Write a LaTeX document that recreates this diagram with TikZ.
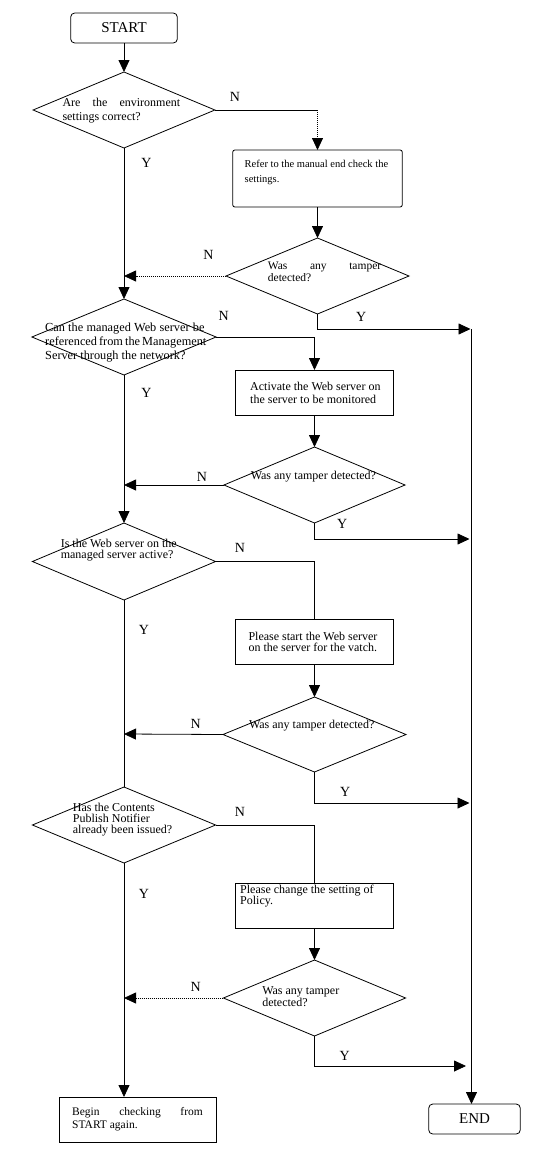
\documentclass[tikz,border=0pt]{standalone}
\usepackage{fontspec}
\setmainfont{Liberation Serif}
\usetikzlibrary{shapes.geometric, arrows.meta}
\newcommand\myfs[2]{\fontsize{#1}{#2}\selectfont}
\tikzset{
  ln/.style={line width=0.8pt},
  arr/.style={ln, -{Triangle[length=12pt,width=11pt]}},
  fdot/.style={dash pattern=on 1pt off 1pt},
  dia/.style={draw, ln, diamond, inner sep=0pt, outer sep=0pt},
  proc/.style={draw, ln, rectangle, inner sep=0pt, outer sep=0pt},
  pbox/.style={proc, minimum width=157.9pt, minimum height=45pt},
  term/.style={draw, ln, rectangle, rounded corners=4pt, inner sep=0pt, outer sep=0pt, font=\myfs{15}{15}},
  txt/.style={inner sep=0pt, align=left},
  lab/.style={inner sep=0pt, font=\myfs{14}{14}},
}
\begin{document}
\begin{tikzpicture}[x=1pt,y=-1pt]
\useasboundingbox (0,0) rectangle (543,1154);
% shapes
\node[term, minimum width=106.6pt, minimum height=30pt] (start) at (124,28) {START};
\node[dia, minimum width=181.8pt, minimum height=76pt] (d1) at (124,110) {};
\node[proc, rounded corners=2pt, minimum width=169.4pt, minimum height=57pt] (b1) at (317.5,178.5) {};
\node[dia, minimum width=183pt, minimum height=76pt] (d2) at (317.5,276) {};
\node[dia, minimum width=184.2pt, minimum height=76pt] (d3) at (124,337) {};
\node[pbox] (b2) at (314.5,392.5) {};
\node[dia, minimum width=181.1pt, minimum height=76pt] (d4) at (314.5,485) {};
\node[dia, minimum width=183.2pt, minimum height=77pt] (d5) at (124,561.5) {};
\node[pbox] (b3) at (314.5,641.5) {};
\node[dia, minimum width=183pt, minimum height=75pt] (d6) at (314.5,734.5) {};
\node[dia, minimum width=183.2pt, minimum height=76pt] (d7) at (124,825) {};
\node[pbox] (b4) at (314.5,905.5) {};
\node[dia, minimum width=182.2pt, minimum height=76pt] (d8) at (314.5,998) {};
\node[proc, minimum width=157.2pt, minimum height=45pt] (b5) at (137.8,1119.5) {};
\node[term, minimum width=91.5pt, minimum height=30pt] (end) at (474.5,1119) {END};
% texts
\node[txt, anchor=west, font=\myfs{12}{14}] (t1) at (62.3,111) {\makebox[117.7pt][s]{Are the environment}\\settings correct?};
\node[txt, anchor=west, font=\myfs{10.5}{15}] (t2) at (244.5,172.5) {Refer to the manual end check the\\settings.};
\node[txt, anchor=west, font=\myfs{11.5}{12}] (t3) at (267.7,272) {\makebox[113.3pt][s]{Was any tamper}\\detected?};
\node[txt, anchor=west, font=\myfs{12.3}{14}] (t4) at (45,343) {\makebox[159.3pt][s]{Can the managed Web server be}\\\makebox[159.3pt][s]{referenced from the Management}\\Server through the network?};
\node[txt, anchor=west, font=\myfs{12}{13}] (t5) at (250,392.5) {Activate the Web server on\\the server to be monitored};
\node[txt, font=\myfs{12}{12}] (t6) at (313.4,477) {Was any tamper detected?};
\node[txt, anchor=west, font=\myfs{12}{11}] (t7) at (60.6,550.5) {Is the Web server on the\\managed server active?};
\node[txt, anchor=west, font=\myfs{12}{11}] (t8) at (248.3,642.2) {Please start the Web server\\on the server for the vatch.};
\node[txt, font=\myfs{12}{12}] (t9) at (311.7,726) {Was any tamper detected?};
\node[txt, anchor=west, font=\myfs{12}{11}] (t10) at (72.7,819.3) {Has the Contents\\Publish Notifier\\already been issued?};
\node[txt, anchor=west, font=\myfs{12}{11}] (t11) at (240,896.4) {Please change the setting of\\Policy.};
\node[txt, anchor=west, font=\myfs{12}{10.5}] (t12) at (262.1,997) {Was any tamper\\detected?};
\node[txt, anchor=west, font=\myfs{11.5}{13}] (t13) at (72,1118.7) {\makebox[130.6pt][s]{Begin checking from}\\START again.};
% labels
\node[lab] (n1) at (235,97) {N};
\node[lab] (y1) at (146.5,163) {Y};
\node[lab] (n2) at (208.5,255) {N};
\node[lab] (y2) at (361.2,317) {Y};
\node[lab] (n3) at (223.7,316) {N};
\node[lab] (y3) at (146.5,393) {Y};
\node[lab] (n4) at (201.9,477) {N};
\node[lab] (y4) at (342.1,524) {Y};
\node[lab] (n5) at (240,548) {N};
\node[lab] (y5) at (144,630) {Y};
\node[lab] (n6) at (195.7,724) {N};
\node[lab] (y6) at (345.3,792) {Y};
\node[lab] (n7) at (240,812) {N};
\node[lab] (y7) at (144,894) {Y};
\node[lab] (n8) at (195.7,987) {N};
\node[lab] (y8) at (344.6,1056) {Y};
% free ends
\coordinate (m2) at (124,276);
\coordinate (m4) at (124,485);
\coordinate (m6) at (124,734);
\coordinate (m8) at (124,998);
\coordinate (r2) at (470.5,329);
\coordinate (r4) at (469.5,539);
\coordinate (r6) at (469.5,803);
\coordinate (r8) at (466,1066);
\coordinate (rt) at (471.5,329);
\coordinate (c1) at (d1.east -| b1.north);
% connectors
\draw[arr] (start.south) -- (d1.north);
\draw[arr] (d1.south) -- (d3.north);
\draw[arr] (d3.south) -- (d5.north);
\draw[ln] (d5.south) -- (d7.north);
\draw[arr] (d7.south) -- (d7.south |- b5.north);
\draw[ln] (d1.east) -- (c1);
\draw[arr, fdot] (c1) -- (b1.north);
\draw[arr] (b1.south) -- (d2.north);
\draw[arr, fdot] (d2.west) -- (m2);
\draw[arr] (d2.south) |- (r2);
\draw[arr] (d3.east) -| (b2.north);
\draw[arr] (b2.south) -- (d4.north);
\draw[arr] (d4.west) -- (m4);
\draw[arr] (d4.south) |- (r4);
\draw[ln] (d5.east) -| (b3.north);
\draw[arr] (b3.south) -- (d6.north);
\draw[arr] (d6.west) -- (m6);
\draw[arr] (d6.south) |- (r6);
\draw[ln] (d7.east) -| (b4.north);
\draw[arr] (b4.south) -- (d8.north);
\draw[arr, fdot] (d8.west) -- (m8);
\draw[arr] (d8.south) |- (r8);
\draw[arr] (rt) -- (rt |- end.north);
\end{tikzpicture}
\end{document}
